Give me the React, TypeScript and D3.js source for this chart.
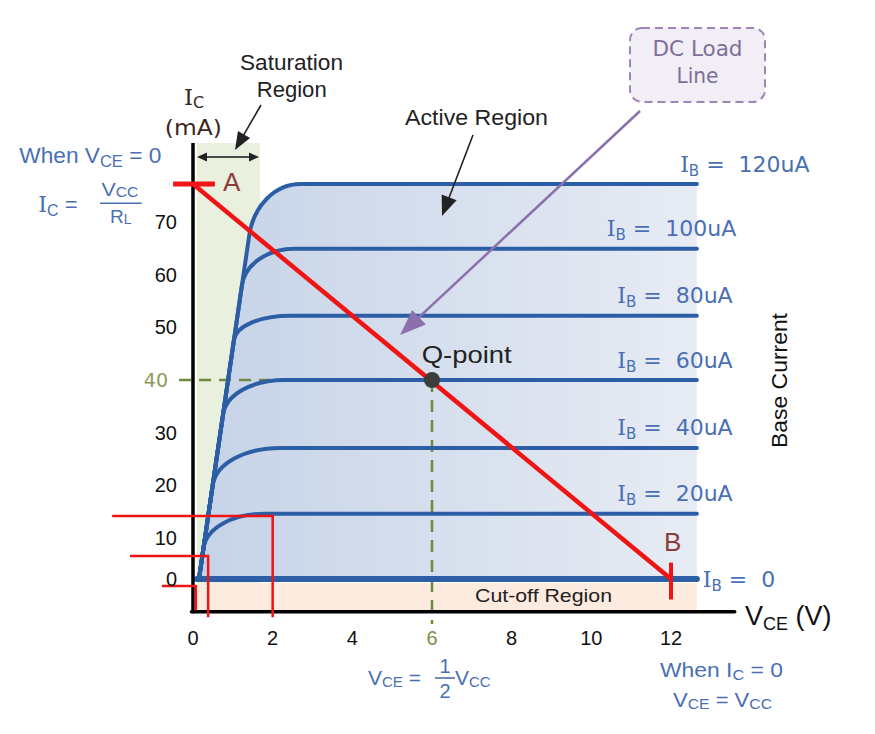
import React from "react";
import * as d3 from "d3";

const W = 875;
const H = 734;

// ---------------- data ----------------
const vceTicks = [0, 2, 4, 6, 8, 10, 12];
const icTicks = [0, 10, 20, 30, 40, 50, 60, 70];
const ibValues = [0, 20, 40, 60, 80, 100, 120]; // uA
const icLevels = [0, 14.6, 27.1, 40, 52.2, 64.9, 77.2]; // mA (flat part of each curve)
const kneeStartIc = [0, 7.6, 20, 33.4, 47.6, 58, 67.5]; // mA where the curve leaves the saturation line
const kneeEndVce = [0, 1.8, 2.2, 2.3, 2.45, 2.56, 2.7]; // V where the curve becomes flat
const satLineVce = [0.15, 1.6];
const satLineIc = [0, 77.2];
const vceMax = 12.65;
const vcc = 12;
const icSat = 77.2;
const qVce = 6;
const qIc = 40;
// red reference marks
const markVce = [2, 0.38, 0.07];
const markIc = [14.2, 5.6, -1.7];
const markLeftVce = [-2.03, -1.58, -0.78];
const markBottomIc = [-9.3, -9.3, -7.6];

// ---------------- layout ----------------
const x = d3.scaleLinear().domain([0, 12]).range([193, 671]);
const y = d3.scaleLinear().domain([0, 10, 70]).range([579, 538, 222]);

const SANS = "'Liberation Sans', Arial, sans-serif";
const VER = "'DejaVu Sans', Verdana, sans-serif";
const SERIF = "'DejaVu Serif', serif";
const BLUE_TXT = "#4a6fb4";
const CURVE = "#2c5ea6";
const RED = "#f01414";
const GREEN = "#6f8a3e";

const labelVce = [12.8, 10.65, 10.65, 10.65, 10.65, 10.39, 12.23];

const P0 = [x(satLineVce[0]), y(satLineIc[0])];
const PT = [x(satLineVce[1]), y(satLineIc[1])];
const envX = (py: number) => P0[0] + ((py - P0[1]) * (PT[0] - P0[0])) / (PT[1] - P0[1]);

function curvePath(i: number): string {
  const yL = y(icLevels[i]);
  const xEnd = x(vceMax);
  const p = d3.path();
  if (i === 0) {
    p.moveTo(x(0.1), yL);
    p.lineTo(xEnd, yL);
    return p.toString();
  }
  const yb = y(kneeStartIc[i]);
  const B = [envX(yb), yb];
  const C = [envX(yL), yL];
  const F = [x(kneeEndVce[i]), yL];
  const k = 0.58;
  p.moveTo(P0[0], P0[1]);
  p.lineTo(B[0], B[1]);
  p.bezierCurveTo(
    B[0] + k * (C[0] - B[0]),
    B[1] + k * (C[1] - B[1]),
    F[0] + k * (C[0] - F[0]),
    F[1],
    F[0],
    F[1]
  );
  p.lineTo(xEnd, yL);
  return p.toString();
}

function arrow(x1: number, y1: number, x2: number, y2: number, len: number, half: number) {
  const dx = x2 - x1;
  const dy = y2 - y1;
  const L = Math.hypot(dx, dy);
  const ux = dx / L;
  const uy = dy / L;
  const bx = x2 - ux * len;
  const by = y2 - uy * len;
  const px = -uy;
  const py = ux;
  return {
    line: [x1, y1, bx + ux * 2, by + uy * 2],
    head: `${x2},${y2} ${bx + px * half},${by + py * half} ${bx - px * half},${by - py * half}`,
  };
}

function Arrow({ a, color, width }: { a: any; color: string; width: number }) {
  return (
    <g>
      <line x1={a.line[0]} y1={a.line[1]} x2={a.line[2]} y2={a.line[3]} stroke={color} strokeWidth={width} />
      <polygon points={a.head} fill={color} />
    </g>
  );
}

export default function App() {
  const xEnd = x(vceMax);
  const fillPath = curvePath(6) + `L${xEnd},${y(0)}L${P0[0]},${P0[1]}Z`;

  const satArrow = arrow(261, 105, 235, 150, 18, 7);
  const actArrow = arrow(473, 135, 442, 216, 20, 8);
  const dcArrow = arrow(640, 111, 400, 335, 26, 10);
  const dblL = arrow(228, 157, 197, 157, 10, 4.5);
  const dblR = arrow(228, 157, 259, 157, 10, 4.5);

  return (
    <svg
      width={W}
      height={H}
      viewBox={`0 0 ${W} ${H}`}
      style={{ position: "absolute", left: 0, top: 0, display: "block", background: "#fff" }}
    >
      <defs>
        <linearGradient id="activeGrad" x1="0" x2="1" y1="0" y2="0">
          <stop offset="0" stopColor="#c6d3e7" />
          <stop offset="1" stopColor="#e7ecf4" />
        </linearGradient>
      </defs>

      {/* regions */}
      <rect x={x(0.1)} y={y(85)} width={x(1.68) - x(0.1)} height={y(-1) - y(85)} fill="#e9f0de" />
      <rect x={x(0.1)} y={y(-1)} width={xEnd - x(0.1)} height={y(-8) - y(-1)} fill="#fdebe0" />
      <path d={fillPath} fill="url(#activeGrad)" />

      {/* green guide lines */}
      <line x1={x(-0.35)} y1={y(qIc)} x2={x(qVce)} y2={y(qIc)} stroke={GREEN} strokeWidth={2.5} strokeDasharray="12 8" />
      <line x1={x(qVce)} y1={y(qIc)} x2={x(qVce)} y2={y(-11)} stroke={GREEN} strokeWidth={2.5} strokeDasharray="12 8" />

      {/* characteristic curves */}
      {ibValues.map((ib, i) => (
        <path
          key={ib}
          d={curvePath(i)}
          fill="none"
          stroke={CURVE}
          strokeWidth={i === 0 ? 6 : 4}
          strokeLinecap="round"
        />
      ))}

      {/* axes */}
      <line x1={x(0)} y1={y(85)} x2={x(0)} y2={y(-8) + 1.5} stroke="#000" strokeWidth={3.5} />
      <line x1={x(0) - 1.5} y1={y(-8)} x2={x(13.6)} y2={y(-8)} stroke="#000" strokeWidth={3.5} strokeLinecap="round" />

      {/* red marks */}
      {markVce.map((v, i) => (
        <path
          key={i}
          d={`M${x(markLeftVce[i])},${y(markIc[i])}L${x(v)},${y(markIc[i])}L${x(v)},${y(markBottomIc[i])}`}
          fill="none"
          stroke={RED}
          strokeWidth={2.5}
        />
      ))}

      {/* load line */}
      <line x1={x(-0.5)} y1={y(icSat)} x2={x(0.55)} y2={y(icSat)} stroke={RED} strokeWidth={5} />
      <line x1={x(0)} y1={y(icSat)} x2={x(vcc)} y2={y(0)} stroke={RED} strokeWidth={4.5} />
      <line x1={x(vcc)} y1={y(4)} x2={x(vcc)} y2={y(-5)} stroke={RED} strokeWidth={4} />

      {/* Q point */}
      <circle cx={x(qVce)} cy={y(qIc)} r={8} fill="#3d3d3d" />

      {/* arrows */}
      <Arrow a={satArrow} color="#222" width={1.6} />
      <Arrow a={actArrow} color="#222" width={1.6} />
      <Arrow a={dcArrow} color="#8a70ad" width={2.5} />
      <Arrow a={dblL} color="#222" width={1.6} />
      <Arrow a={dblR} color="#222" width={1.6} />

      {/* DC load line box */}
      <rect x={630} y={28} width={135} height={74} rx={12} fill="#f2eef6" stroke="#9c86b8" strokeWidth={2} strokeDasharray="8 5" />
      <text x={697.5} y={56} textAnchor="middle" fontFamily={VER} fontSize={21} fill="#7d6e9c" textLength={90} lengthAdjust="spacingAndGlyphs">DC Load</text>
      <text x={697.5} y={83} textAnchor="middle" fontFamily={VER} fontSize={21} fill="#7d6e9c" textLength={42} lengthAdjust="spacingAndGlyphs">Line</text>

      {/* IB labels */}
      {ibValues.map((ib, i) => (
        <text
          key={"l" + ib}
          x={x(labelVce[i])}
          y={y(icLevels[i]) + (i === 0 ? 8 : -12.5)}
          fontFamily={VER}
          fontSize={22}
          fill={BLUE_TXT}
          style={{ whiteSpace: "pre" }}
        >
          <tspan fontFamily={SERIF}>I</tspan>
          <tspan fontSize={15} dy={4}>B</tspan>
          <tspan dy={-4}>{` =  ${ib === 0 ? "0" : ib + "uA"}`}</tspan>
        </text>
      ))}

      <text transform="translate(787,380.5) rotate(-90)" textAnchor="middle" fontFamily={SANS} fontSize={22} fill="#111" textLength={135} lengthAdjust="spacingAndGlyphs">Base Current</text>

      {/* annotations */}
      <text x={291.5} y={70} textAnchor="middle" fontFamily={SANS} fontSize={22} fill="#222" textLength={103} lengthAdjust="spacingAndGlyphs">Saturation</text>
      <text x={291.7} y={97} textAnchor="middle" fontFamily={SANS} fontSize={22} fill="#222" textLength={70} lengthAdjust="spacingAndGlyphs">Region</text>
      <text x={476.5} y={125} textAnchor="middle" fontFamily={SANS} fontSize={22} fill="#222" textLength={143} lengthAdjust="spacingAndGlyphs">Active Region</text>
      <text x={421.7} y={363} fontFamily={SANS} fontSize={24} fill="#222" textLength={90} lengthAdjust="spacingAndGlyphs">Q-point</text>
      <text x={543.5} y={602} textAnchor="middle" fontFamily={SANS} fontSize={19} fill="#222" textLength={137} lengthAdjust="spacingAndGlyphs">Cut-off Region</text>
      <text x={223} y={191} fontFamily={SANS} fontSize={26} fill="#8a3d3d">A</text>
      <text x={664} y={551} fontFamily={SANS} fontSize={26} fill="#8a3d3d">B</text>

      {/* axis titles */}
      <text x={184} y={105} fontFamily={SERIF} fontSize={23} fill="#3a2a1c">
        I<tspan fontFamily={VER} fontSize={16} dy={3}>C</tspan>
      </text>
      <text x={193.3} y={135} textAnchor="middle" fontFamily={VER} fontSize={21} fill="#3a2a1c" textLength={57} lengthAdjust="spacingAndGlyphs">(mA)</text>
      <text x={745} y={625} fontFamily={SANS} fontSize={27} fill="#111" style={{ whiteSpace: "pre" }}>
        V<tspan fontSize={18} dy={5}>CE</tspan><tspan dy={-5}> (V)</tspan>
      </text>

      {/* tick labels */}
      {icTicks.map((t) => (
        <text
          key={"y" + t}
          x={t === 40 ? 168 : 177}
          y={y(t) + 7}
          textAnchor="end"
          fontFamily={t === 40 ? VER : SANS}
          fontSize={t === 40 ? 19 : 20}
          fill={t === 40 ? "#8c9b5c" : "#111"}
        >
          {t}
        </text>
      ))}
      {vceTicks.map((t) => (
        <text
          key={"x" + t}
          x={x(t)}
          y={645}
          textAnchor="middle"
          fontFamily={SANS}
          fontSize={20}
          fill={t === qVce ? "#7d8f4a" : "#111"}
        >
          {t}
        </text>
      ))}

      {/* left formula */}
      <text x={19.3} y={162.7} fontFamily={SANS} fontSize={22} fill={BLUE_TXT} textLength={142} lengthAdjust="spacingAndGlyphs" style={{ whiteSpace: "pre" }}>
        When V<tspan fontSize={16} dy={4}>CE</tspan><tspan dy={-4}> = 0</tspan>
      </text>
      <text x={38.3} y={211.7} fontFamily={SANS} fontSize={22} fill={BLUE_TXT} style={{ whiteSpace: "pre" }}>
        <tspan fontFamily={SERIF}>I</tspan><tspan fontSize={16} dy={4}>C</tspan><tspan dy={-4}> =</tspan>
      </text>
      <text x={120} y={196} textAnchor="middle" fontFamily={SANS} fontSize={19} fill={BLUE_TXT} textLength={37} lengthAdjust="spacingAndGlyphs">
        V<tspan fontSize={14} dy={1}>CC</tspan>
      </text>
      <line x1={100} y1={203.3} x2={141.7} y2={203.3} stroke={BLUE_TXT} strokeWidth={1.6} />
      <text x={110} y={223} fontFamily={SANS} fontSize={19} fill={BLUE_TXT}>
        R<tspan fontSize={14} dy={1}>L</tspan>
      </text>

      {/* bottom formula */}
      <text x={368} y={685} fontFamily={SANS} fontSize={21} fill={BLUE_TXT} style={{ whiteSpace: "pre" }}>
        V<tspan fontSize={15} dy={2}>CE</tspan><tspan dy={-2}> =</tspan>
      </text>
      <text x={445} y={673} textAnchor="middle" fontFamily={SANS} fontSize={20} fill={BLUE_TXT}>1</text>
      <line x1={435} y1={678} x2={455} y2={678} stroke={BLUE_TXT} strokeWidth={1.6} />
      <text x={445} y={698} textAnchor="middle" fontFamily={SANS} fontSize={20} fill={BLUE_TXT}>2</text>
      <text x={455} y={685} fontFamily={SANS} fontSize={21} fill={BLUE_TXT}>
        V<tspan fontSize={15} dy={2}>CC</tspan>
      </text>

      <text x={721.5} y={677} textAnchor="middle" fontFamily={SANS} fontSize={21} fill={BLUE_TXT} textLength={123} lengthAdjust="spacingAndGlyphs" style={{ whiteSpace: "pre" }}>
        When I<tspan fontSize={15} dy={3}>C</tspan><tspan dy={-3}> = 0</tspan>
      </text>
      <text x={722.5} y={707} textAnchor="middle" fontFamily={SANS} fontSize={21} fill={BLUE_TXT} textLength={99} lengthAdjust="spacingAndGlyphs" style={{ whiteSpace: "pre" }}>
        V<tspan fontSize={15} dy={2}>CE</tspan><tspan dy={-2}> = V</tspan><tspan fontSize={15} dy={2}>CC</tspan>
      </text>
    </svg>
  );
}
